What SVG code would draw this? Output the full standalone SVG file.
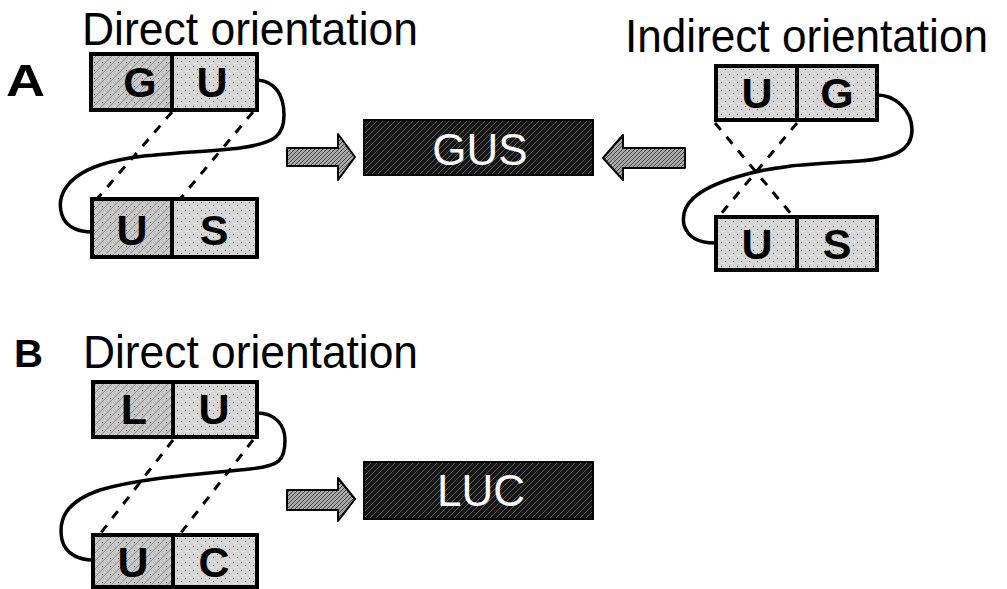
<svg xmlns="http://www.w3.org/2000/svg" width="1007" height="589" viewBox="0 0 1007 589">
  <style>
    .title { font-family: "Liberation Sans", Arial, sans-serif; font-size: 46px; fill: #000; }
    .panel { font-family: "Liberation Sans", Arial, sans-serif; font-weight: bold; fill: #000; }
    .cell { stroke: #000; stroke-width: 4; }
    .light { fill: url(#stipple); }
    .mid { fill: url(#stippleMid); }
    .letter { font-family: "Liberation Sans", Arial, sans-serif; font-weight: bold; font-size: 43px; fill: #000; text-anchor: middle; }
    .reporter { fill: url(#darkHatch); stroke: #000; stroke-width: 2; }
    .reporterText { font-family: "Liberation Sans", Arial, sans-serif; font-size: 44px; fill: #fff; text-anchor: middle; }
    .loop { fill: none; stroke: #000; stroke-width: 3.5; stroke-linecap: round; stroke-linejoin: round; }
    .pair { fill: none; stroke: #000; stroke-width: 3; stroke-dasharray: 9 9; }
    .arrow { fill: url(#arrowHatch); stroke: #000; stroke-width: 2; stroke-linejoin: round; }
  </style>
  <defs>
    <!-- light grey speckled cell fill -->
    <pattern id="stipple" width="8" height="8" patternUnits="userSpaceOnUse">
      <rect width="8" height="8" fill="#d6d6d6"/>
      <rect x="1" y="2" width="1" height="1" fill="#555"/>
      <rect x="5" y="5" width="1" height="1" fill="#666"/>
      <rect x="3" y="7" width="1" height="1" fill="#fff"/>
      <rect x="6" y="1" width="1" height="1" fill="#fff"/>
    </pattern>
    <pattern id="stippleMid" width="8" height="8" patternUnits="userSpaceOnUse">
      <rect width="8" height="8" fill="#c8c8c8"/>
      <path d="M0,8 L8,0" stroke="#888" stroke-width="1"/>
      <rect x="2" y="2" width="1" height="1" fill="#fff"/>
      <rect x="6" y="6" width="1" height="1" fill="#444"/>
    </pattern>
    <!-- dark hatched reporter fill -->
    <pattern id="darkHatch" width="6" height="6" patternUnits="userSpaceOnUse">
      <rect width="6" height="6" fill="#161616"/>
      <path d="M0,6 L6,0" stroke="#5a5a5a" stroke-width="1"/>
    </pattern>
    <!-- grey hatched arrow fill -->
    <pattern id="arrowHatch" width="4" height="4" patternUnits="userSpaceOnUse">
      <rect width="4" height="4" fill="#a8a8a8"/>
      <path d="M0,4 L4,0" stroke="#444" stroke-width="1"/>
    </pattern>
  </defs>

  <rect width="1007" height="589" fill="#fff"/>

  <!-- headings -->
  <g id="labels">
    <text class="panel" x="6" y="96" font-size="44" textLength="39" lengthAdjust="spacingAndGlyphs">A</text>
    <text class="panel" x="14" y="367" font-size="38" textLength="29" lengthAdjust="spacingAndGlyphs">B</text>
    <text class="title" x="82" y="45" textLength="336" lengthAdjust="spacingAndGlyphs">Direct orientation</text>
    <text class="title" x="625" y="52" font-size="47" textLength="363" lengthAdjust="spacingAndGlyphs">Indirect orientation</text>
    <text class="title" x="83" y="368" font-size="40" textLength="335" lengthAdjust="spacingAndGlyphs">Direct orientation</text>
  </g>

  <!-- connectors: hairpin loops, base-pairing lines, arrows -->
  <g id="connectors">
    <path class="loop" d="M257,80 C275,81 284,95 284,115 C284,135 276,143 240,148 C200,153 140,152 100,165 C62,178 57,200 62,215 C66,228 80,232 92,232"/>
    <path class="loop" d="M877,95 C895,95 912,110 912,130 C912,150 895,158 860,161 C820,164 780,164 740,176 C695,189 680,205 684,225 C688,238 700,243 715,243"/>
    <path class="loop" d="M257,413 C275,413 285,425 285,440 C285,460 280,466 250,469 C200,474 140,478 100,490 C65,502 58,520 62,540 C66,555 80,560 93,560"/>

    <line class="pair" x1="172" y1="112" x2="97" y2="199"/>
    <line class="pair" x1="253" y1="112" x2="180" y2="199"/>
    <line class="pair" x1="715" y1="123" x2="792" y2="215"/>
    <line class="pair" x1="797" y1="123" x2="720" y2="215"/>
    <line class="pair" x1="173" y1="440" x2="100" y2="534"/>
    <line class="pair" x1="253" y1="440" x2="180" y2="534"/>

    <path class="arrow" d="M287,148 L338,148 L338,134 L355,157 L338,180 L338,166 L287,166 Z"/>
    <path class="arrow" d="M685,148 L623,148 L623,135 L603,158 L623,180 L623,168 L685,168 Z"/>
    <path class="arrow" d="M287,490 L338,490 L338,478 L355,499 L338,521 L338,510 L287,510 Z"/>
  </g>

  <!-- panel A, direct orientation -->
  <g id="a-direct-top">
    <rect class="cell mid" x="91" y="54" width="81" height="56"/>
    <rect class="cell light" x="172" y="54" width="85" height="56"/>
    <text class="letter" x="140" y="97">G</text>
    <text class="letter" x="212" y="97">U</text>
  </g>
  <g id="a-direct-bottom">
    <rect class="cell mid" x="92" y="199" width="80" height="58"/>
    <rect class="cell light" x="172" y="199" width="85" height="58"/>
    <text class="letter" x="132" y="245">U</text>
    <text class="letter" x="214" y="245">S</text>
  </g>

  <g id="gus">
    <rect class="reporter" x="364" y="120" width="229" height="55"/>
    <text class="reporterText" x="480" y="165">GUS</text>
  </g>

  <!-- panel A, indirect orientation -->
  <g id="a-indirect-top">
    <rect class="cell light" x="716" y="66" width="81" height="54"/>
    <rect class="cell light" x="797" y="66" width="80" height="54"/>
    <text class="letter" x="757" y="108">U</text>
    <text class="letter" x="837" y="108">G</text>
  </g>
  <g id="a-indirect-bottom">
    <rect class="cell light" x="716" y="217" width="81" height="53"/>
    <rect class="cell light" x="797" y="217" width="80" height="53"/>
    <text class="letter" x="757" y="259">U</text>
    <text class="letter" x="837" y="259">S</text>
  </g>

  <!-- panel B -->
  <g id="b-direct-top">
    <rect class="cell mid" x="93" y="382" width="80" height="55"/>
    <rect class="cell light" x="173" y="382" width="84" height="55"/>
    <text class="letter" x="134" y="424">L</text>
    <text class="letter" x="214" y="424">U</text>
  </g>
  <g id="b-direct-bottom">
    <rect class="cell mid" x="93" y="535" width="80" height="52"/>
    <rect class="cell light" x="173" y="535" width="84" height="52"/>
    <text class="letter" x="133" y="577">U</text>
    <text class="letter" x="214" y="577">C</text>
  </g>

  <g id="luc">
    <rect class="reporter" x="364" y="462" width="229" height="57"/>
    <text class="reporterText" x="481" y="506" font-size="42">LUC</text>
  </g>
</svg>
